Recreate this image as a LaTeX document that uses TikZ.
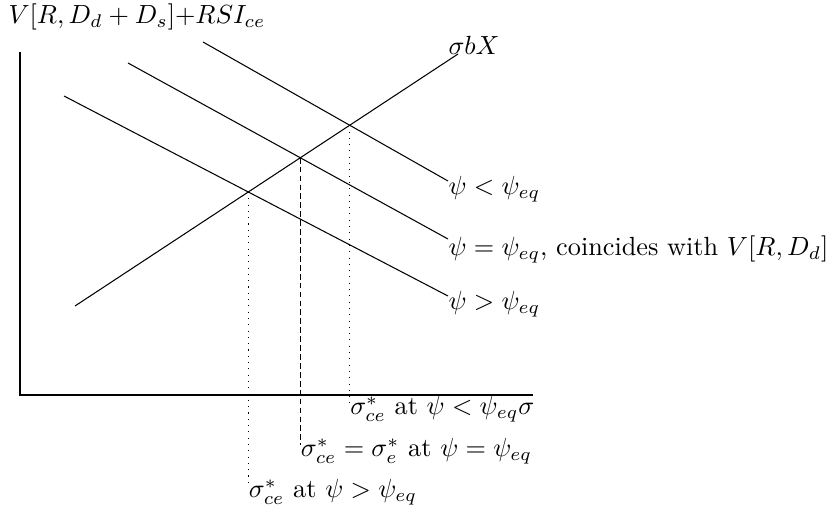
\documentclass[tikz,border=0pt]{standalone}
\usepackage{amssymb,amsfonts}
\usepackage{tikz}

\begin{document}
\begin{tikzpicture}[x=0.381pt, y=-0.381pt,
        lbl/.style ={inner sep=0pt},
        dropline/.style ={dotted},
        eqline/.style ={dash pattern=on 2.2pt off 1.2pt}]
    \useasboundingbox (0,0) rectangle (834,514);

    %--- Axes ---
    \coordinate (O) at (20,395);
    \coordinate (Ytop) at (20,52);
    \coordinate (Xend) at (533,395);
    \draw (Ytop) -- (O) -- (Xend);
    \node[lbl, anchor=west] (ylab) at (8,17) {$V[R, D_d + D_s]$+$RSI_{ce}$};

    %--- Supply line ---
    \coordinate (Ss) at (75,306);
    \coordinate (Se) at (458,54);
    \draw (Ss) -- (Se);
    \node[lbl, anchor=west] (slab) at (448,45) {$\sigma b X$};

    %--- Value lines ---
    \coordinate (L1s) at (203,42);
    \coordinate (L1e) at (448,181);
    \coordinate (L2s) at (128,63);
    \coordinate (L2e) at (448,239);
    \coordinate (L3s) at (64,96);
    \coordinate (L3e) at (448,296);
    \draw (L1s) -- (L1e);
    \draw (L2s) -- (L2e);
    \draw (L3s) -- (L3e);
    \node[lbl, anchor=west] (low) at ([yshift=-3]L1e) {$\psi < \psi_{eq}$};
    \node[lbl, anchor=west] (mid) at ([yshift=-4]L2e) {$\psi = \psi_{eq}$, coincides with $V[R, D_d]$};
    \node[lbl, anchor=west] (high) at ([yshift=-3]L3e) {$\psi > \psi_{eq}$};

    %--- Equilibria ---
    \coordinate (P1) at (intersection of L1s--L1e and Ss--Se);
    \coordinate (P2) at (intersection of L2s--L2e and Ss--Se);
    \coordinate (P3) at (intersection of L3s--L3e and Ss--Se);
    \coordinate (lvl1) at (0,403);
    \coordinate (lvl2) at (0,445);
    \coordinate (lvl3) at (0,486);
    \coordinate (B1) at (P1 |- lvl1);
    \coordinate (B2) at (P2 |- lvl2);
    \coordinate (B3) at (P3 |- lvl3);
    \draw[dropline] (P1) -- (B1);
    \draw[eqline] (P2) -- (B2);
    \draw[dropline] (P3) -- (B3);
    \node[lbl, anchor=west] (s1) at ([yshift=-2.5]B1) {$\sigma^*_{ce}$ at $\psi < \psi_{eq}\sigma$};
    \node[lbl, anchor=west] (s2) at ([yshift=-2.5]B2) {$\sigma^*_{ce} = \sigma^*_e$ at $\psi = \psi_{eq}$};
    \node[lbl, anchor=west] (s3) at ([yshift=-2.5]B3) {$\sigma^*_{ce}$ at $\psi > \psi_{eq}$};

    \end{tikzpicture}
\end{document}
